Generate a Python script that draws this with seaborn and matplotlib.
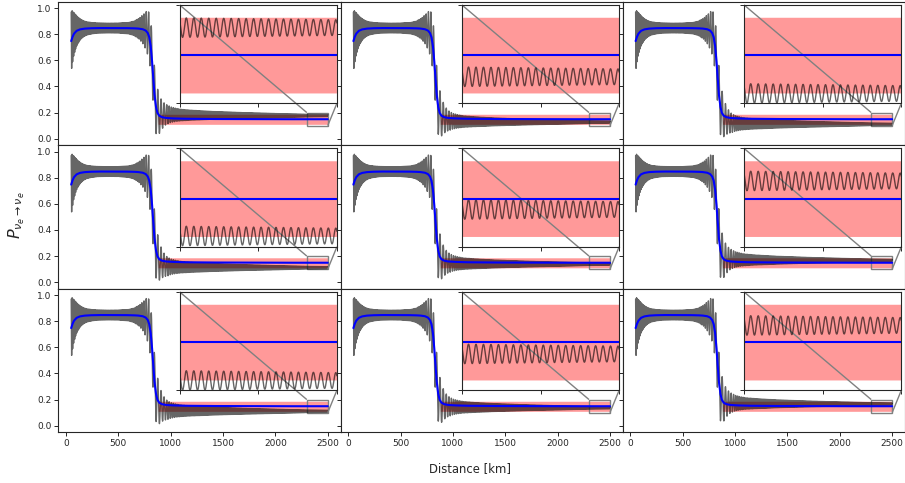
import numpy as np
import matplotlib
matplotlib.use("Agg")
import matplotlib.pyplot as plt
import seaborn as sns
from mpl_toolkits.axes_grid1.inset_locator import mark_inset

# Phase-averaged electron-neutrino survival probability along the path
avg_km = [50, 60, 75, 100, 130, 170, 220, 300, 400, 500, 600, 680, 730, 760,
          780, 795, 808, 820, 832, 845, 858, 872, 890, 915, 950, 1000, 1100,
          1300, 1600, 2000, 2500]
avg_p = [0.748, 0.775, 0.803, 0.826, 0.837, 0.843, 0.846, 0.848, 0.848, 0.848,
         0.847, 0.845, 0.840, 0.830, 0.812, 0.780, 0.720, 0.620, 0.480, 0.340,
         0.250, 0.200, 0.176, 0.165, 0.159, 0.156, 0.153, 0.151, 0.150, 0.149,
         0.149]

# Half-width of the fast oscillation around the average
amp_km = [50, 70, 90, 110, 140, 170, 200, 250, 300, 400, 500, 600, 650, 700,
          740, 770, 790, 820, 855, 875, 895, 920, 950, 1000, 1050, 1100, 1200,
          1400, 1700, 2000, 2300, 2500]
amp_p = [0.235, 0.175, 0.135, 0.105, 0.077, 0.060, 0.050, 0.043, 0.039, 0.037,
         0.038, 0.044, 0.055, 0.080, 0.115, 0.155, 0.180, 0.205, 0.215, 0.180,
         0.140, 0.105, 0.080, 0.060, 0.050, 0.044, 0.038, 0.030, 0.022, 0.016,
         0.010, 0.008]

# Local oscillation length [km]
osc_km = [50, 600, 680, 740, 790, 830, 880, 930, 1000, 1100, 1300, 1600, 2500]
osc_len = [9.5, 10.0, 14.0, 20.0, 24.0, 30.0, 33.0, 28.0, 20.0, 14.0, 11.0,
           9.6, 9.5]

# Late-distance shift of the oscillation centre from the average (row-major)
panel_offset = [0.028, -0.022, -0.039,
                -0.038, -0.011, 0.018,
                -0.039, -0.012, 0.017]

# Band of the expected asymptotic probability
band_start = 880
band_lo, band_hi = 0.110, 0.187

zoom_x = (2300, 2500)
zoom_y = (0.10, 0.20)
x_ticks = [0, 500, 1000, 1500, 2000, 2500]
y_ticks = [0.0, 0.2, 0.4, 0.6, 0.8, 1.0]

sns.set_style("ticks")
plt.rcParams["font.family"] = ["DejaVu Sans"]

# fine distance grid for the oscillating solution
dist = np.arange(50.0, 2500.01, 0.5)
avg_fine = np.interp(dist, avg_km, avg_p)
amp_fine = np.interp(dist, amp_km, amp_p)
lam_fine = np.interp(dist, osc_km, osc_len)
phase = 2 * np.pi * np.cumsum(np.gradient(dist) / lam_fine)
ramp = np.clip((dist - 830.0) / 150.0, 0, 1)
ramp = ramp * ramp * (3 - 2 * ramp)

band_x = dist[dist >= band_start]

fig, axes = plt.subplots(3, 3, sharex=True, sharey=True,
                         figsize=(9.05, 4.83), dpi=100)
fig.subplots_adjust(left=0.0645, right=1.0, top=0.9965, bottom=0.1052,
                    wspace=0, hspace=0)


def draw(ax, prob, lw_osc):
    ax.fill_between(band_x, band_lo, band_hi, color="red", alpha=0.4, lw=0)
    sns.lineplot(x=dist, y=prob, ax=ax, color="k", alpha=0.6, lw=lw_osc,
                 estimator=None, sort=False)
    sns.lineplot(x=dist, y=avg_fine, ax=ax, color="b", lw=1.5,
                 estimator=None, sort=False)


for i, ax in enumerate(axes.flat):
    prob = avg_fine + panel_offset[i] * ramp + amp_fine * np.cos(phase)
    draw(ax, prob, 1.0)
    ax.set_xlim(-72.5, 2622.5)
    ax.set_ylim(-0.05, 1.05)
    ax.set_xticks(x_ticks)
    ax.set_yticks(y_ticks)
    ax.tick_params(labelsize=6.5, length=3, width=0.7, pad=2)
    ax.set_xlabel("")
    ax.set_ylabel("")

    axins = ax.inset_axes([0.43, 0.292, 0.557, 0.685])
    draw(axins, prob, 1.0)
    axins.set_xlim(*zoom_x)
    axins.set_ylim(*zoom_y)
    axins.set_xticks([2300, 2400, 2500])
    axins.set_yticks(list(zoom_y))
    axins.set_xticklabels([])
    axins.set_yticklabels([])
    axins.tick_params(length=3, width=0.7)
    axins.set_xlabel("")
    axins.set_ylabel("")
    mark_inset(ax, axins, loc1=2, loc2=4, fc="none", ec="0.5", lw=1)

fig.text(0.019, 0.555, r"$P_{\nu_e\rightarrow\nu_e}$", rotation=90,
         ha="center", va="center", fontsize=11.5)
fig.text(0.519, 0.029, "Distance [km]", ha="center", va="center",
         fontsize=8.4)

fig.savefig("out.png", dpi=100)
